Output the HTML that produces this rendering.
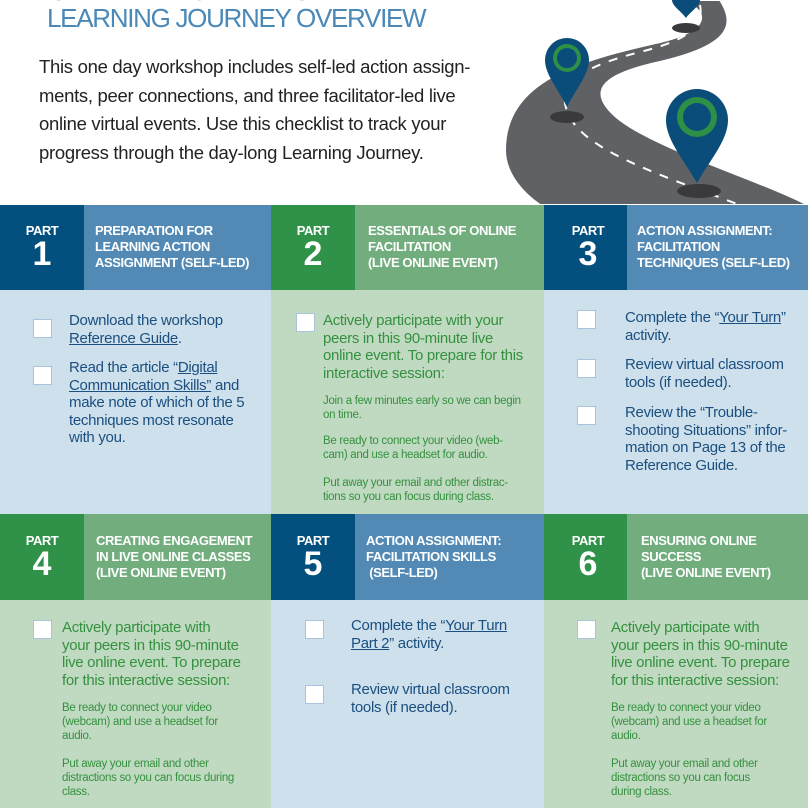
<!DOCTYPE html>
<html><head><meta charset="utf-8"><style>
*{margin:0;padding:0;box-sizing:border-box}
body{width:808px;height:808px;overflow:hidden;background:#fff;font-family:"Liberation Sans",sans-serif;position:relative}
.a{position:absolute}
.num{color:#fff;text-align:center;font-weight:bold}
.num .p{font-size:13px;letter-spacing:-0.5px}
.num .n{font-size:34px;line-height:32px}
.hd{color:#fff;font-weight:bold;font-size:13px;line-height:16px;letter-spacing:-0.4px}
.t{font-size:15px;line-height:17.5px;letter-spacing:-0.3px}
.s{font-size:11.5px;line-height:14px;letter-spacing:-0.3px}
.b{color:#1b4f80}.g{color:#34913f}
.cb{position:absolute;width:19px;height:19px;background:#fff;border:1px solid #a9c4da}
u{text-decoration:underline}
</style></head><body>
<div class="a" style="left:48px;top:-25px;font-size:28px;color:#34913f;font-weight:bold;letter-spacing:-1px">ONLINE FACILITATION</div>
<div class="a" style="left:47px;top:3px;font-size:26px;color:#4a88b8;letter-spacing:-1.3px">LEARNING JOURNEY OVERVIEW</div>
<div class="a" style="left:39px;top:53px;font-size:18.5px;line-height:28.5px;color:#222;letter-spacing:-0.3px">This one day workshop includes self-led action assign-<br>ments, peer connections, and three facilitator-led live<br>online virtual events. Use this checklist to track your<br>progress through the day-long Learning Journey.</div>
<svg class="a" style="left:490px;top:0" width="318" height="205" viewBox="490 0 318 205">
<path d="M680 0 C710 10 712 30 660 42 C580 60 505 80 505 150 C505 175 525 195 540 205 L808 205 C760 180 660 150 620 120 C585 92 600 75 660 62 C720 48 740 30 720 0 Z" fill="#5f6164" stroke="#fff" stroke-width="2"/>
<path d="M700 5 C705 30 680 42 640 52 C570 70 550 90 575 125 C600 155 660 175 740 205" fill="none" stroke="#fff" stroke-width="2" stroke-dasharray="9 9"/>
<ellipse cx="567" cy="117" rx="17" ry="6" fill="#3a3a3c"/>
<ellipse cx="699" cy="191" rx="22" ry="7" fill="#3a3a3c"/>
<ellipse cx="686" cy="28" rx="14" ry="5" fill="#3a3a3c"/>
<path d="M545 60 A22 22 0 0 1 589 60 C589 75 575 90 567 107 C559 90 545 75 545 60Z" fill="#0a4d7a"/>
<circle cx="567" cy="58" r="14" fill="#2e8f47"/><circle cx="567" cy="58" r="10" fill="#0a4d7a"/>
<path d="M666 120 A31 31 0 0 1 728 120 C728 140 710 160 697 183 C684 160 666 140 666 120Z" fill="#0a4d7a"/>
<circle cx="697" cy="117" r="20" fill="#2e8f47"/><circle cx="697" cy="117" r="14" fill="#0a4d7a"/>
<path d="M672 0 L700 0 C700 6 690 12 686 18 C682 12 672 6 672 0Z" fill="#0a4d7a"/>
</svg>
<div class="a" style="left:0;top:205px;width:84px;height:85px;background:#034f7d"></div>
<div class="a" style="left:84px;top:205px;width:187px;height:85px;background:#528ab5"></div>
<div class="a" style="left:271px;top:205px;width:84px;height:85px;background:#309249"></div>
<div class="a" style="left:355px;top:205px;width:189px;height:85px;background:#72ad7e"></div>
<div class="a" style="left:544px;top:205px;width:83px;height:85px;background:#034f7d"></div>
<div class="a" style="left:627px;top:205px;width:181px;height:85px;background:#528ab5"></div>
<div class="a num" style="left:0;top:223px;width:84px"><div class="p">PART</div><div class="n">1</div></div>
<div class="a num" style="left:271px;top:223px;width:84px"><div class="p">PART</div><div class="n">2</div></div>
<div class="a num" style="left:544px;top:223px;width:88px"><div class="p">PART</div><div class="n">3</div></div>
<div class="a hd" style="left:95px;top:223px">PREPARATION FOR<br>LEARNING ACTION<br>ASSIGNMENT (SELF-LED)</div>
<div class="a hd" style="left:368px;top:223px">ESSENTIALS OF ONLINE<br>FACILITATION<br>(LIVE ONLINE EVENT)</div>
<div class="a hd" style="left:637px;top:223px">ACTION ASSIGNMENT:<br>FACILITATION<br>TECHNIQUES (SELF-LED)</div>
<div class="a" style="left:0;top:290px;width:271px;height:224px;background:#cde0ec"></div>
<div class="a" style="left:271px;top:290px;width:273px;height:224px;background:#c0d9c1"></div>
<div class="a" style="left:544px;top:290px;width:264px;height:224px;background:#cde0ec"></div>
<div class="cb" style="left:33px;top:319px"></div>
<div class="cb" style="left:33px;top:366px"></div>
<div class="a t b" style="left:69px;top:312px">Download the workshop<br><u>Reference Guide</u>.</div>
<div class="a t b" style="left:69px;top:359px">Read the article “<u>Digital<br>Communication Skills”</u> and<br>make note of which of the 5<br>techniques most resonate<br>with you.</div>
<div class="cb" style="left:296px;top:313px"></div>
<div class="a t g" style="left:323px;top:312px">Actively participate with your<br>peers in this 90-minute live<br>online event. To prepare for this<br>interactive session:</div>
<div class="a s g" style="left:323px;top:394px">Join a few minutes early so we can begin<br>on time.</div>
<div class="a s g" style="left:323px;top:434px">Be ready to connect your video (web-<br>cam) and use a headset for audio.</div>
<div class="a s g" style="left:323px;top:476px">Put away your email and other distrac-<br>tions so you can focus during class.</div>
<div class="cb" style="left:577px;top:310px"></div>
<div class="cb" style="left:577px;top:359px"></div>
<div class="cb" style="left:577px;top:406px"></div>
<div class="a t b" style="left:625px;top:309px">Complete the “<u>Your Turn</u>”<br>activity.</div>
<div class="a t b" style="left:625px;top:356px">Review virtual classroom<br>tools (if needed).</div>
<div class="a t b" style="left:625px;top:404px">Review the “Trouble-<br>shooting Situations” infor-<br>mation on Page 13 of the<br>Reference Guide.</div>
<div class="a" style="left:0;top:514px;width:84px;height:86px;background:#309249"></div>
<div class="a" style="left:84px;top:514px;width:187px;height:86px;background:#72ad7e"></div>
<div class="a" style="left:271px;top:514px;width:84px;height:86px;background:#034f7d"></div>
<div class="a" style="left:355px;top:514px;width:189px;height:86px;background:#528ab5"></div>
<div class="a" style="left:544px;top:514px;width:83px;height:86px;background:#309249"></div>
<div class="a" style="left:627px;top:514px;width:181px;height:86px;background:#72ad7e"></div>
<div class="a num" style="left:0;top:533px;width:84px"><div class="p">PART</div><div class="n">4</div></div>
<div class="a num" style="left:271px;top:533px;width:84px"><div class="p">PART</div><div class="n">5</div></div>
<div class="a num" style="left:544px;top:533px;width:88px"><div class="p">PART</div><div class="n">6</div></div>
<div class="a hd" style="left:96px;top:533px">CREATING ENGAGEMENT<br>IN LIVE ONLINE CLASSES<br>(LIVE ONLINE EVENT)</div>
<div class="a hd" style="left:366px;top:533px">ACTION ASSIGNMENT:<br>FACILITATION SKILLS<br>&nbsp;(SELF-LED)</div>
<div class="a hd" style="left:641px;top:533px">ENSURING ONLINE<br>SUCCESS<br>(LIVE ONLINE EVENT)</div>
<div class="a" style="left:0;top:600px;width:271px;height:208px;background:#c0d9c1"></div>
<div class="a" style="left:271px;top:600px;width:273px;height:208px;background:#cde0ec"></div>
<div class="a" style="left:544px;top:600px;width:264px;height:208px;background:#c0d9c1"></div>
<div class="cb" style="left:33px;top:620px"></div>
<div class="a t g" style="left:62px;top:619px">Actively participate with<br>your peers in this 90-minute<br>live online event. To prepare<br>for this interactive session:</div>
<div class="a s g" style="left:62px;top:701px">Be ready to connect your video<br>(webcam) and use a headset for<br>audio.</div>
<div class="a s g" style="left:62px;top:757px">Put away your email and other<br>distractions so you can focus during<br>class.</div>
<div class="cb" style="left:305px;top:620px"></div>
<div class="cb" style="left:305px;top:685px"></div>
<div class="a t b" style="left:351px;top:617px">Complete the “<u>Your Turn<br>Part 2</u>” activity.</div>
<div class="a t b" style="left:351px;top:681px">Review virtual classroom<br>tools (if needed).</div>
<div class="cb" style="left:577px;top:620px"></div>
<div class="a t g" style="left:611px;top:619px">Actively participate with<br>your peers in this 90-minute<br>live online event. To prepare<br>for this interactive session:</div>
<div class="a s g" style="left:611px;top:701px">Be ready to connect your video<br>(webcam) and use a headset for<br>audio.</div>
<div class="a s g" style="left:611px;top:757px">Put away your email and other<br>distractions so you can focus<br>during class.</div>
</body></html>
